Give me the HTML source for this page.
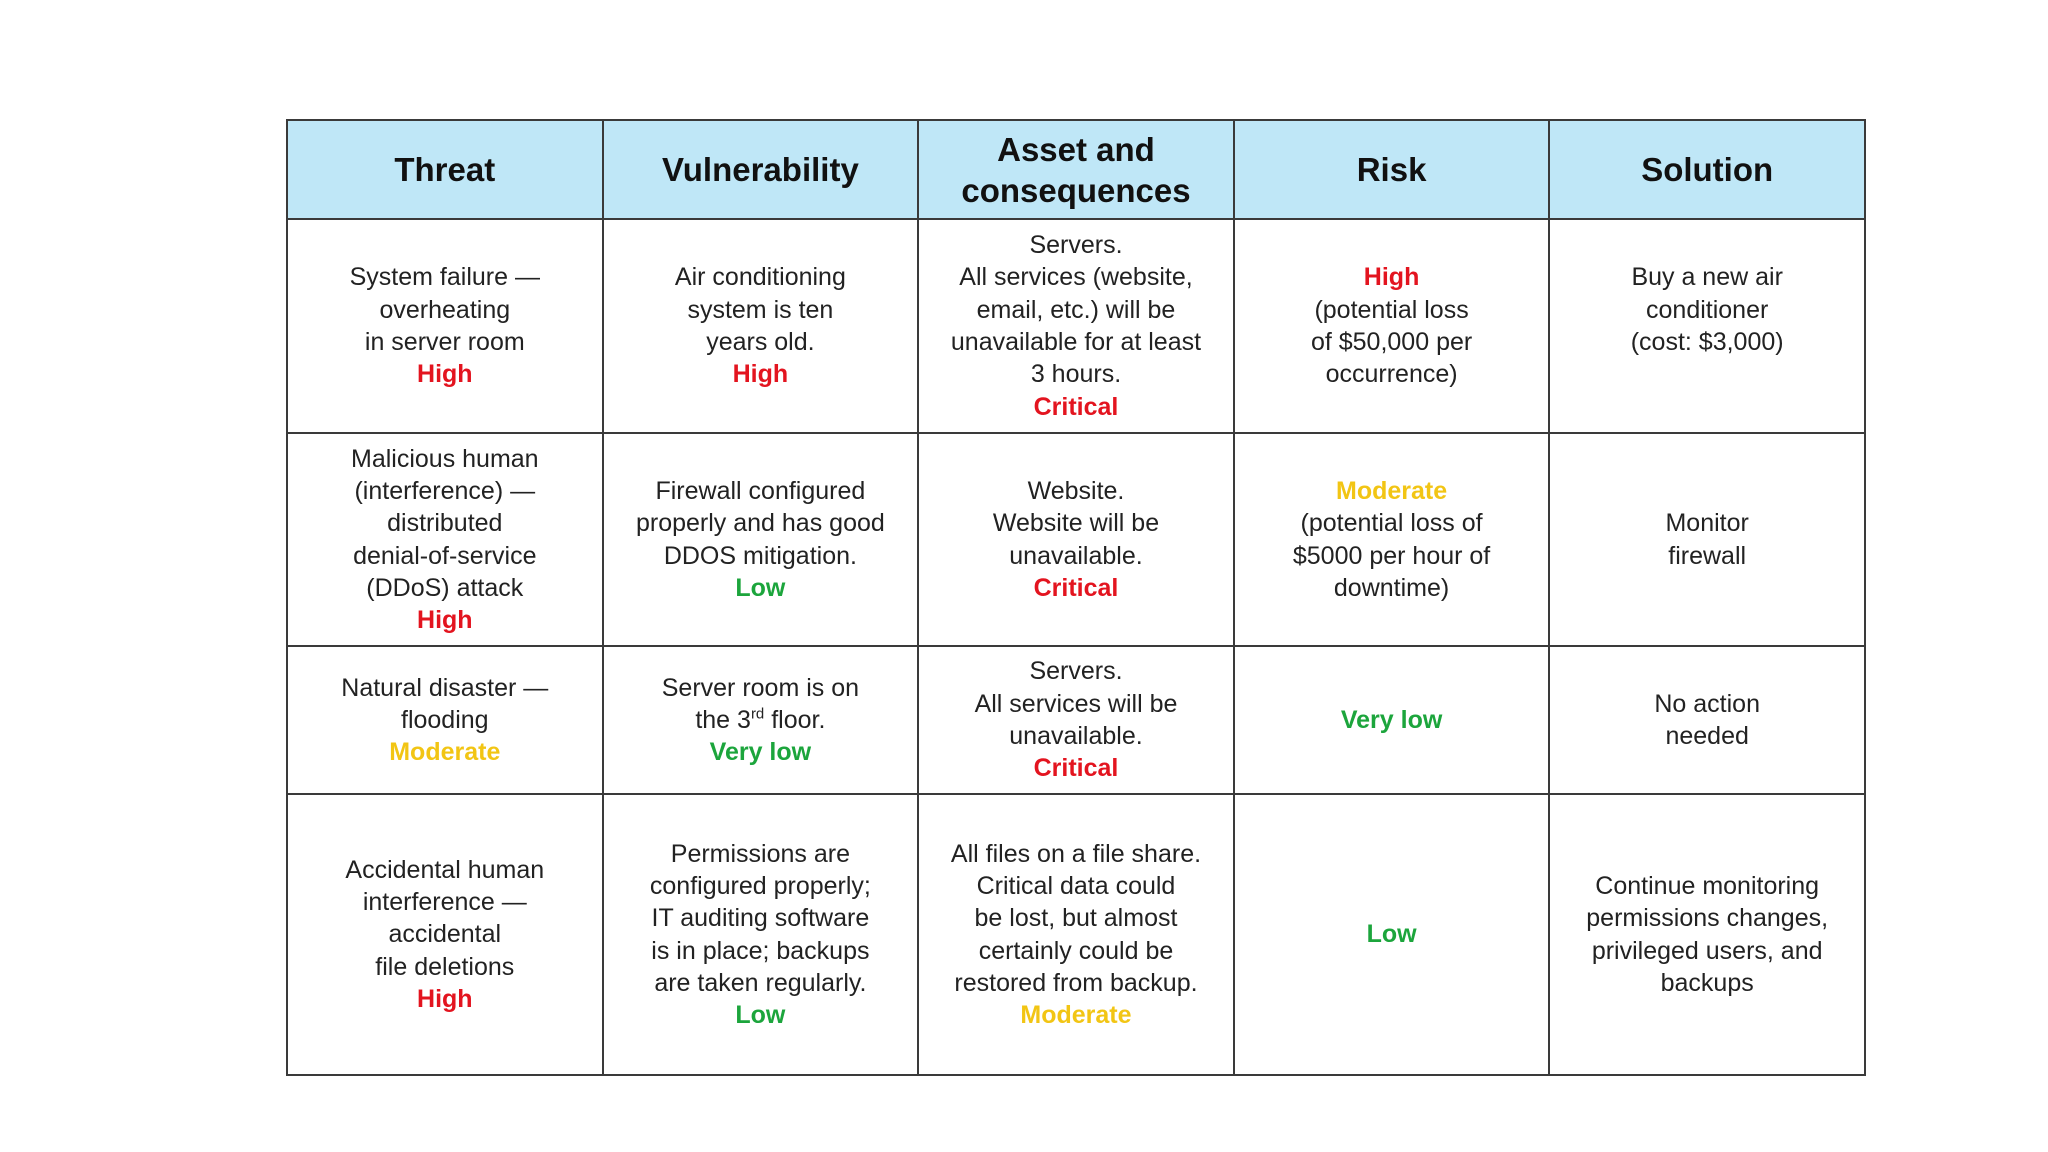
<!DOCTYPE html>
<html><head><meta charset="utf-8"><style>
html,body{margin:0;padding:0;background:#fff;width:2048px;height:1152px;overflow:hidden}
table{position:absolute;left:286px;top:119px;border-collapse:collapse;table-layout:fixed;font-family:"Liberation Sans",sans-serif;color:#222}
td,th{border:2.5px solid #3a3a3a;text-align:center;vertical-align:middle;padding:0 5px;width:303px}
th{background:#bfe7f7;font-size:33px;line-height:41px;font-weight:bold;color:#111;height:97px}
td{font-size:25px;line-height:32.3px}
.r{color:#e3141f;font-weight:bold}.y{color:#f2c514;font-weight:bold}.g{color:#1ca53c;font-weight:bold}
sup{font-size:15px;line-height:0}
</style></head><body>
<table style="width:1578px">
<colgroup><col style="width:315.6px"><col style="width:315.6px"><col style="width:315.6px"><col style="width:315.6px"><col style="width:315.6px"></colgroup>
<tr><th>Threat</th><th>Vulnerability</th><th>Asset and<br>consequences</th><th>Risk</th><th>Solution</th></tr>
<tr style="height:214px"><td>System failure —<br>overheating<br>in server room<br><span class="r">High</span></td><td>Air conditioning<br>system is ten<br>years old.<br><span class="r">High</span></td><td>Servers.<br>All services (website,<br>email, etc.) will be<br>unavailable for at least<br>3 hours.<br><span class="r">Critical</span></td><td><span class="r">High</span><br>(potential loss<br>of $50,000 per<br>occurrence)</td><td>Buy a new air<br>conditioner<br>(cost: $3,000)<br><br></td></tr>
<tr style="height:213px"><td>Malicious human<br>(interference) —<br>distributed<br>denial-of-service<br>(DDoS) attack<br><span class="r">High</span></td><td>Firewall configured<br>properly and has good<br>DDOS mitigation.<br><span class="g">Low</span></td><td>Website.<br>Website will be<br>unavailable.<br><span class="r">Critical</span></td><td><span class="y">Moderate</span><br>(potential loss of<br>$5000 per hour of<br>downtime)</td><td>Monitor<br>firewall</td></tr>
<tr style="height:148px"><td>Natural disaster —<br>flooding<br><span class="y">Moderate</span></td><td>Server room is on<br>the 3<sup>rd</sup> floor.<br><span class="g">Very low</span></td><td>Servers.<br>All services will be<br>unavailable.<br><span class="r">Critical</span></td><td><span class="g">Very low</span></td><td>No action<br>needed</td></tr>
<tr style="height:281px"><td>Accidental human<br>interference —<br>accidental<br>file deletions<br><span class="r">High</span></td><td>Permissions are<br>configured properly;<br>IT auditing software<br>is in place; backups<br>are taken regularly.<br><span class="g">Low</span></td><td>All files on a file share.<br>Critical data could<br>be lost, but almost<br>certainly could be<br>restored from backup.<br><span class="y">Moderate</span></td><td><span class="g">Low</span></td><td>Continue monitoring<br>permissions changes,<br>privileged users, and<br>backups</td></tr>
</table>
</body></html>
